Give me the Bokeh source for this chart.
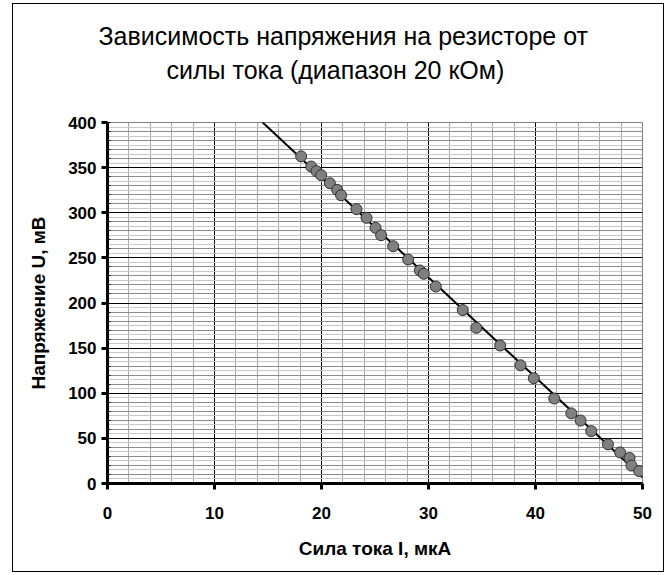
import numpy as np
from bokeh.plotting import figure
from bokeh.models import FixedTicker, Grid, Title, Range1d, ColumnDataSource
from bokeh.embed import file_html
from bokeh.resources import INLINE

# ---- data ----
current_uA = [18.10, 19.04, 19.53, 19.97, 20.78, 21.47, 21.83, 23.27, 24.21, 25.05,
              25.57, 26.70, 28.10, 29.19, 29.56, 30.68, 33.20, 34.47, 36.70, 38.60,
              39.84, 41.75, 43.35, 44.21, 45.21, 46.77, 47.91, 48.79, 48.97, 49.69]
voltage_mV = [362.5, 351.2, 346.0, 341.6, 332.7, 325.4, 319.4, 303.9, 294.4, 283.3,
              275.1, 262.9, 248.2, 236.0, 232.4, 218.3, 192.2, 172.5, 152.9, 131.0,
              116.7, 94.2, 77.7, 69.8, 58.0, 43.4, 34.4, 28.3, 19.9, 13.8]
x_ticks = [0, 10, 20, 30, 40, 50]
y_ticks = [0, 50, 100, 150, 200, 250, 300, 350, 400]
x_minor = list(range(0, 51, 2))
y_minor = list(range(0, 401, 10))
y_fine = list(range(5, 400, 10))

title_line1 = "Зависимость напряжения на резисторе от"
title_line2 = "силы тока (диапазон 20 кОм)"
x_label = "Сила тока I, мкА"
y_label = "Напряжение U, мВ"

FONT = "Liberation Sans"
W, H = 652, 569
FL, FT, FW, FH = 94, 118, 535, 361   # frame left/top/width/height in canvas pixels

# linear trend line fitted to the points
k, b = np.polyfit(current_uA, voltage_mV, 1)
trend_x = [x_ticks[0], x_ticks[-1]]
trend_y = [k * v + b for v in trend_x]

p = figure(width=W, height=H, x_range=Range1d(0, 50), y_range=Range1d(0, 400),
           output_backend="svg", toolbar_location=None,
           styles={"border": "1px solid black", "margin-left": "12px", "margin-top": "3px"})
p.min_border_left = FL
p.min_border_right = W - FL - FW
p.min_border_top = FT
p.min_border_bottom = H - FT - FH
p.background_fill_color = "white"
p.border_fill_color = "white"
p.outline_line_color = "#808080"
p.outline_line_width = 1

# two-line title (added from the plot outward), with an empty spacer next to the plot
p.add_layout(Title(text=" ", standoff=0, text_font=FONT, text_font_size="30px"), "above")
p.add_layout(Title(text=title_line2, align="left", offset=59, standoff=8,
                   text_font=FONT, text_font_size="25px", text_font_style="normal",
                   text_color="black"), "above")
p.add_layout(Title(text=title_line1, align="left", offset=-9, standoff=0,
                   text_font=FONT, text_font_size="25px", text_font_style="normal",
                   text_color="black"), "above")

# grids
p.xgrid.ticker = FixedTicker(ticks=x_ticks, minor_ticks=x_minor)
p.xgrid.grid_line_color = "black"
p.xgrid.grid_line_width = 1
p.xgrid.minor_grid_line_color = "#a8a8a8"
p.ygrid.ticker = FixedTicker(ticks=y_ticks, minor_ticks=y_minor)
p.ygrid.grid_line_color = "black"
p.ygrid.minor_grid_line_color = "#8c8c8c"
p.add_layout(Grid(dimension=1, ticker=FixedTicker(ticks=y_fine), grid_line_color="#c8c8c8"))

# axes
for ax in (p.xaxis[0], p.yaxis[0]):
    ax.axis_line_color = "black"
    ax.axis_line_width = 3
    ax.major_tick_line_color = "black"
    ax.major_tick_line_width = 3
    ax.major_tick_out = 6
    ax.major_tick_in = 0
    ax.major_label_text_font = FONT
    ax.major_label_text_font_size = "17px"
    ax.major_label_text_font_style = "bold"
    ax.major_label_text_color = "black"
    ax.axis_label_text_font = FONT
    ax.axis_label_text_font_size = "19px"
    ax.axis_label_text_font_style = "bold"
    ax.axis_label_text_color = "black"

p.xaxis.ticker = FixedTicker(ticks=x_ticks)
p.xaxis.minor_tick_line_color = None
p.xaxis.major_label_standoff = 17
p.xaxis.axis_label = x_label
p.xaxis.axis_label_standoff = 16

p.yaxis.ticker = FixedTicker(ticks=y_ticks, minor_ticks=y_minor)
p.yaxis.minor_tick_line_color = "black"
p.yaxis.minor_tick_in = 3
p.yaxis.minor_tick_out = 0
p.yaxis.major_label_standoff = 5
p.yaxis.axis_label = y_label
p.yaxis.axis_label_standoff = 16

# trend line and points
p.line(trend_x, trend_y, line_color="black", line_width=2)
src = ColumnDataSource(dict(x=current_uA, y=voltage_mV))
p.scatter("x", "y", source=src, size=11, fill_color="#808080",
          line_color="#303030", line_width=1)

open("out.html", "w").write(file_html(p, INLINE))
